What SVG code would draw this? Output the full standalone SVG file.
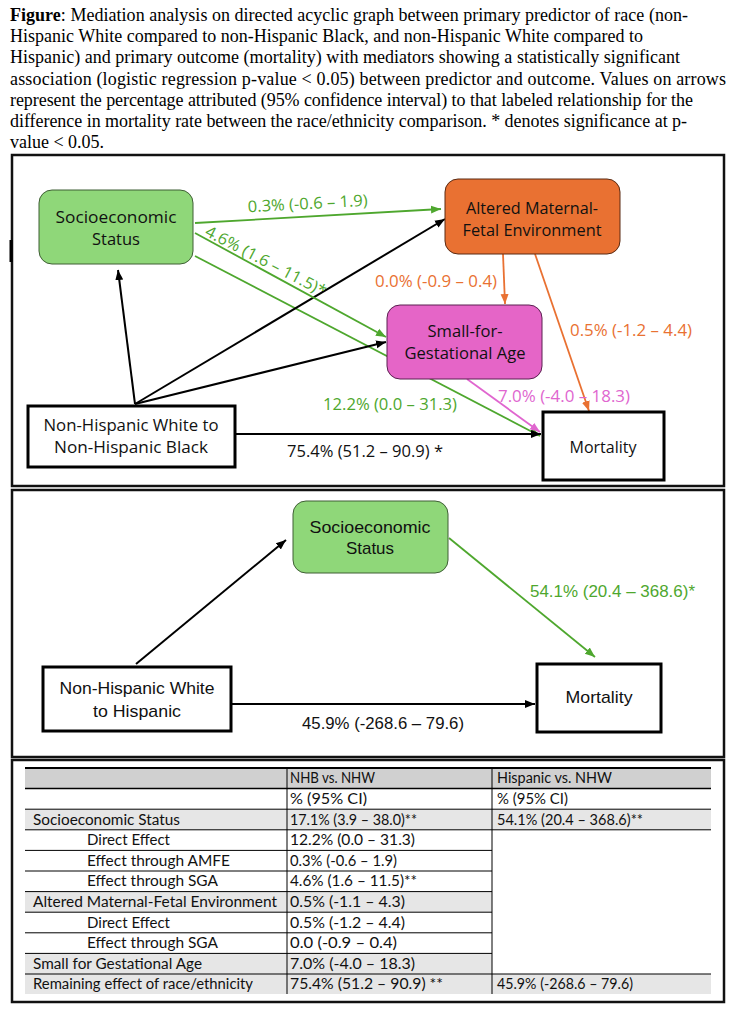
<svg xmlns="http://www.w3.org/2000/svg" width="737" height="1014" viewBox="0 0 737 1014">
<style>
.cap{font-family:"Liberation Serif","Times New Roman",serif;font-size:18px;fill:#000}
.nt{font-family:"Open Sans","Liberation Sans",sans-serif;font-size:16.5px;fill:#111;text-anchor:middle}
.lb{font-family:"Open Sans","Liberation Sans",sans-serif;font-size:16px}
.n2{font-family:"Liberation Sans Narrow","Liberation Sans",sans-serif;font-size:17px;fill:#111;text-anchor:middle}
.l2{font-family:"Liberation Sans Narrow","Liberation Sans",sans-serif;font-size:17px}
.tb{font-family:Lato,"Liberation Sans",sans-serif;font-size:15.5px;fill:#111}
.gt{fill:#4ea72e}.ot{fill:#e97132}.pt{fill:#e066cf}.kt{fill:#111}
.panel{fill:#fff;stroke:#111;stroke-width:2.5}
.box{fill:#fff;stroke:#000;stroke-width:3}
.ck{stroke:#000;stroke-width:2;fill:none}
.cg{stroke:#4ea72e;stroke-width:1.8;fill:none}
.co{stroke:#e97132;stroke-width:1.8;fill:none}
.cp{stroke:#e066cf;stroke-width:1.8;fill:none}
.tl{stroke:#000;stroke-width:1}
</style>
<defs>
<marker id="ak" viewBox="0 0 10 10" refX="10" refY="5" markerWidth="10" markerHeight="10" markerUnits="userSpaceOnUse" orient="auto"><path d="M0,1 L10,5 L0,9 z" fill="#000"/></marker>
<marker id="ag" viewBox="0 0 10 10" refX="10" refY="5" markerWidth="10" markerHeight="10" markerUnits="userSpaceOnUse" orient="auto"><path d="M0,1 L10,5 L0,9 z" fill="#4ea72e"/></marker>
<marker id="ao" viewBox="0 0 10 10" refX="10" refY="5" markerWidth="10" markerHeight="10" markerUnits="userSpaceOnUse" orient="auto"><path d="M0,1 L10,5 L0,9 z" fill="#e97132"/></marker>
<marker id="ap" viewBox="0 0 10 10" refX="10" refY="5" markerWidth="10" markerHeight="10" markerUnits="userSpaceOnUse" orient="auto"><path d="M0,1 L10,5 L0,9 z" fill="#e066cf"/></marker>
</defs>
<rect width="737" height="1014" fill="#fff"/>

<g id="caption">
<text class="cap" x="10" y="21" textLength="678"><tspan font-weight="bold">Figure</tspan>: Mediation analysis on directed acyclic graph between primary predictor of race (non-</text>
<text class="cap" x="10" y="42.2" textLength="633">Hispanic White compared to non-Hispanic Black, and non-Hispanic White compared to</text>
<text class="cap" x="10" y="63.4" textLength="670">Hispanic) and primary outcome (mortality) with mediators showing a statistically significant</text>
<text class="cap" x="10" y="84.6" textLength="716">association (logistic regression p-value &lt; 0.05) between predictor and outcome. Values on arrows</text>
<text class="cap" x="10" y="105.8" textLength="683">represent the percentage attributed (95% confidence interval) to that labeled relationship for the</text>
<text class="cap" x="10" y="127" textLength="677">difference in mortality rate between the race/ethnicity comparison. * denotes significance at p-</text>
<text class="cap" x="10" y="148.2" textLength="94">value &lt; 0.05.</text>
</g>

<g id="panels">
<rect class="panel" x="12" y="155" width="712" height="331"/>
<rect x="9.5" y="240" width="3" height="22" fill="#000"/>
<rect class="panel" x="12" y="490" width="712" height="267"/>
<rect class="panel" x="12" y="760" width="712" height="242"/>
</g>

<g id="connectors-top">
<line class="cg" x1="195" y1="256" x2="540" y2="436" marker-end="url(#ag)"/>
<line class="ck" x1="135" y1="404" x2="118" y2="270" marker-end="url(#ak)"/>
<line class="ck" x1="135" y1="404" x2="445" y2="219" marker-end="url(#ak)"/>
<line class="ck" x1="135" y1="404" x2="386" y2="342" marker-end="url(#ak)"/>
<line class="ck" x1="236" y1="434" x2="541" y2="434" marker-end="url(#ak)"/>
<line class="cg" x1="195" y1="223" x2="441" y2="209" marker-end="url(#ag)"/>
<line class="cg" x1="195" y1="233" x2="386" y2="337" marker-end="url(#ag)"/>
<line class="co" x1="503" y1="254" x2="505" y2="304" marker-end="url(#ao)"/>
<line class="co" x1="535" y1="254" x2="589" y2="411" marker-end="url(#ao)"/>
<line class="cp" x1="467" y1="379" x2="540" y2="432" marker-end="url(#ap)"/>
<text class="lb gt" x="308" y="209" text-anchor="middle" textLength="120" lengthAdjust="spacingAndGlyphs" transform="rotate(-3 308 209)">0.3% (-0.6 – 1.9)</text>
<text class="lb gt" x="204" y="235" textLength="134" lengthAdjust="spacingAndGlyphs" transform="rotate(27.5 204 235)">4.6% (1.6 – 11.5)*</text>
<text class="lb ot" x="375" y="287" textLength="122" lengthAdjust="spacingAndGlyphs">0.0% (-0.9 – 0.4)</text>
<text class="lb ot" x="570" y="336" textLength="122" lengthAdjust="spacingAndGlyphs">0.5% (-1.2 – 4.4)</text>
<text class="lb pt" x="498" y="402" textLength="132" lengthAdjust="spacingAndGlyphs">7.0% (-4.0 – 18.3)</text>
<text class="lb gt" x="323" y="410" textLength="134" lengthAdjust="spacingAndGlyphs">12.2% (0.0 – 31.3)</text>
<text class="lb kt" x="287" y="457" textLength="156" lengthAdjust="spacingAndGlyphs">75.4% (51.2 – 90.9) *</text>
</g>

<g id="ses-top">
<rect x="39" y="190" width="154" height="74" rx="13" fill="#8fd779" stroke="#3f5f35" stroke-width="1"/>
<text class="nt" x="116" y="223" textLength="121" lengthAdjust="spacingAndGlyphs">Socioeconomic</text>
<text class="nt" x="116" y="245" textLength="48" lengthAdjust="spacingAndGlyphs">Status</text>
</g>
<g id="amfe">
<rect x="445" y="179" width="175" height="75" rx="13" fill="#e97132" stroke="#5a2a12" stroke-width="1"/>
<text class="nt" x="532" y="214" textLength="132" lengthAdjust="spacingAndGlyphs">Altered Maternal-</text>
<text class="nt" x="532" y="236" textLength="139" lengthAdjust="spacingAndGlyphs">Fetal Environment</text>
</g>
<g id="sga">
<rect x="387" y="305" width="155" height="74" rx="13" fill="#e565c7" stroke="#5a2050" stroke-width="1"/>
<text class="nt" x="465" y="337" textLength="75" lengthAdjust="spacingAndGlyphs">Small-for-</text>
<text class="nt" x="465" y="359" textLength="121" lengthAdjust="spacingAndGlyphs">Gestational Age</text>
</g>
<g id="nhb">
<rect class="box" x="28" y="406" width="207" height="61"/>
<text class="nt" x="131" y="431" textLength="175" lengthAdjust="spacingAndGlyphs">Non-Hispanic White to</text>
<text class="nt" x="131" y="453" textLength="154" lengthAdjust="spacingAndGlyphs">Non-Hispanic Black</text>
</g>
<g id="mortality-top">
<rect class="box" x="543" y="412" width="121" height="68"/>
<text class="nt" x="603" y="453" textLength="67" lengthAdjust="spacingAndGlyphs">Mortality</text>
</g>

<g id="connectors-bottom">
<line class="ck" x1="136" y1="664" x2="286" y2="540" marker-end="url(#ak)"/>
<line class="cg" x1="449" y1="538" x2="595" y2="657" marker-end="url(#ag)"/>
<line class="ck" x1="231" y1="704" x2="535" y2="704" marker-end="url(#ak)"/>
<text class="l2 gt" x="530" y="597" textLength="165" lengthAdjust="spacingAndGlyphs">54.1% (20.4 – 368.6)*</text>
<text class="l2 kt" x="302" y="729" textLength="162" lengthAdjust="spacingAndGlyphs">45.9% (-268.6 – 79.6)</text>
</g>
<g id="ses-bottom">
<rect x="293" y="501" width="155" height="72" rx="13" fill="#8fd779" stroke="#3f5f35" stroke-width="1"/>
<text class="n2" x="370" y="533" textLength="121" lengthAdjust="spacingAndGlyphs">Socioeconomic</text>
<text class="n2" x="370" y="554" textLength="48" lengthAdjust="spacingAndGlyphs">Status</text>
</g>
<g id="nhh">
<rect class="box" x="43" y="667" width="188" height="64"/>
<text class="n2" x="137" y="694" textLength="155" lengthAdjust="spacingAndGlyphs">Non-Hispanic White</text>
<text class="n2" x="137" y="717" textLength="88" lengthAdjust="spacingAndGlyphs">to Hispanic</text>
</g>
<g id="mortality-bottom">
<rect class="box" x="537" y="664" width="124" height="68"/>
<text class="n2" x="599" y="703" textLength="67" lengthAdjust="spacingAndGlyphs">Mortality</text>
</g>

<g id="table">
<rect x="25" y="768" width="686" height="20.6" fill="#d0d0d0"/>
<rect x="25" y="809.2" width="686" height="20.6" fill="#e6e6e6"/>
<rect x="25" y="891.6" width="467" height="20.6" fill="#e6e6e6"/>
<rect x="25" y="953.4" width="467" height="20.6" fill="#e6e6e6"/>
<rect x="25" y="974" width="686" height="20" fill="#e6e6e6"/>
<line x1="25" y1="768" x2="711" y2="768" stroke="#000" stroke-width="2"/>
<line x1="25" y1="788.6" x2="711" y2="788.6" stroke="#000" stroke-width="1.5"/>
<line class="tl" x1="25" y1="809.2" x2="711" y2="809.2"/>
<line class="tl" x1="25" y1="829.8" x2="711" y2="829.8"/>
<line class="tl" x1="25" y1="850.4" x2="492" y2="850.4"/>
<line class="tl" x1="25" y1="871" x2="492" y2="871"/>
<line class="tl" x1="25" y1="891.6" x2="492" y2="891.6"/>
<line class="tl" x1="25" y1="912.2" x2="492" y2="912.2"/>
<line class="tl" x1="25" y1="932.8" x2="492" y2="932.8"/>
<line class="tl" x1="25" y1="953.4" x2="492" y2="953.4"/>
<line class="tl" x1="25" y1="974" x2="711" y2="974"/>
<line class="tl" x1="287" y1="768" x2="287" y2="994"/>
<line class="tl" x1="492" y1="768" x2="492" y2="994"/>

<text class="tb" x="290" y="783.3" textLength="85" lengthAdjust="spacingAndGlyphs">NHB vs. NHW</text>
<text class="tb" x="497" y="783.3" textLength="115" lengthAdjust="spacingAndGlyphs">Hispanic vs. NHW</text>
<text class="tb" x="290" y="803.9" textLength="77" lengthAdjust="spacingAndGlyphs">% (95% CI)</text>
<text class="tb" x="497" y="803.9" textLength="71" lengthAdjust="spacingAndGlyphs">% (95% CI)</text>

<text class="tb" x="33" y="824.5" textLength="147" lengthAdjust="spacingAndGlyphs">Socioeconomic Status</text>
<text class="tb" x="290" y="824.5" textLength="127" lengthAdjust="spacingAndGlyphs">17.1% (3.9 – 38.0)**</text>
<text class="tb" x="497" y="824.5" textLength="146" lengthAdjust="spacingAndGlyphs">54.1% (20.4 – 368.6)**</text>

<text class="tb" x="87" y="845.1" textLength="83" lengthAdjust="spacingAndGlyphs">Direct Effect</text>
<text class="tb" x="290" y="845.1" textLength="125" lengthAdjust="spacingAndGlyphs">12.2% (0.0 – 31.3)</text>

<text class="tb" x="87" y="865.7" textLength="143" lengthAdjust="spacingAndGlyphs">Effect through AMFE</text>
<text class="tb" x="290" y="865.7" textLength="107" lengthAdjust="spacingAndGlyphs">0.3% (-0.6 – 1.9)</text>

<text class="tb" x="87" y="886.3" textLength="131" lengthAdjust="spacingAndGlyphs">Effect through SGA</text>
<text class="tb" x="290" y="886.3" textLength="127" lengthAdjust="spacingAndGlyphs">4.6% (1.6 – 11.5)**</text>

<text class="tb" x="33" y="906.9" textLength="244" lengthAdjust="spacingAndGlyphs">Altered Maternal-Fetal Environment</text>
<text class="tb" x="290" y="906.9" textLength="115" lengthAdjust="spacingAndGlyphs">0.5% (-1.1 – 4.3)</text>

<text class="tb" x="87" y="927.5" textLength="83" lengthAdjust="spacingAndGlyphs">Direct Effect</text>
<text class="tb" x="290" y="927.5" textLength="115" lengthAdjust="spacingAndGlyphs">0.5% (-1.2 – 4.4)</text>

<text class="tb" x="87" y="948.1" textLength="131" lengthAdjust="spacingAndGlyphs">Effect through SGA</text>
<text class="tb" x="290" y="948.1" textLength="107" lengthAdjust="spacingAndGlyphs">0.0 (-0.9 – 0.4)</text>

<text class="tb" x="33" y="968.7" textLength="169" lengthAdjust="spacingAndGlyphs">Small for Gestational Age</text>
<text class="tb" x="290" y="968.7" textLength="125" lengthAdjust="spacingAndGlyphs">7.0% (-4.0 – 18.3)</text>

<text class="tb" x="33" y="989.3" textLength="220" lengthAdjust="spacingAndGlyphs">Remaining effect of race/ethnicity</text>
<text class="tb" x="290" y="989.3" textLength="153" lengthAdjust="spacingAndGlyphs">75.4% (51.2 – 90.9) **</text>
<text class="tb" x="497" y="989.3" textLength="136" lengthAdjust="spacingAndGlyphs">45.9% (-268.6 – 79.6)</text>
</g>
</svg>
